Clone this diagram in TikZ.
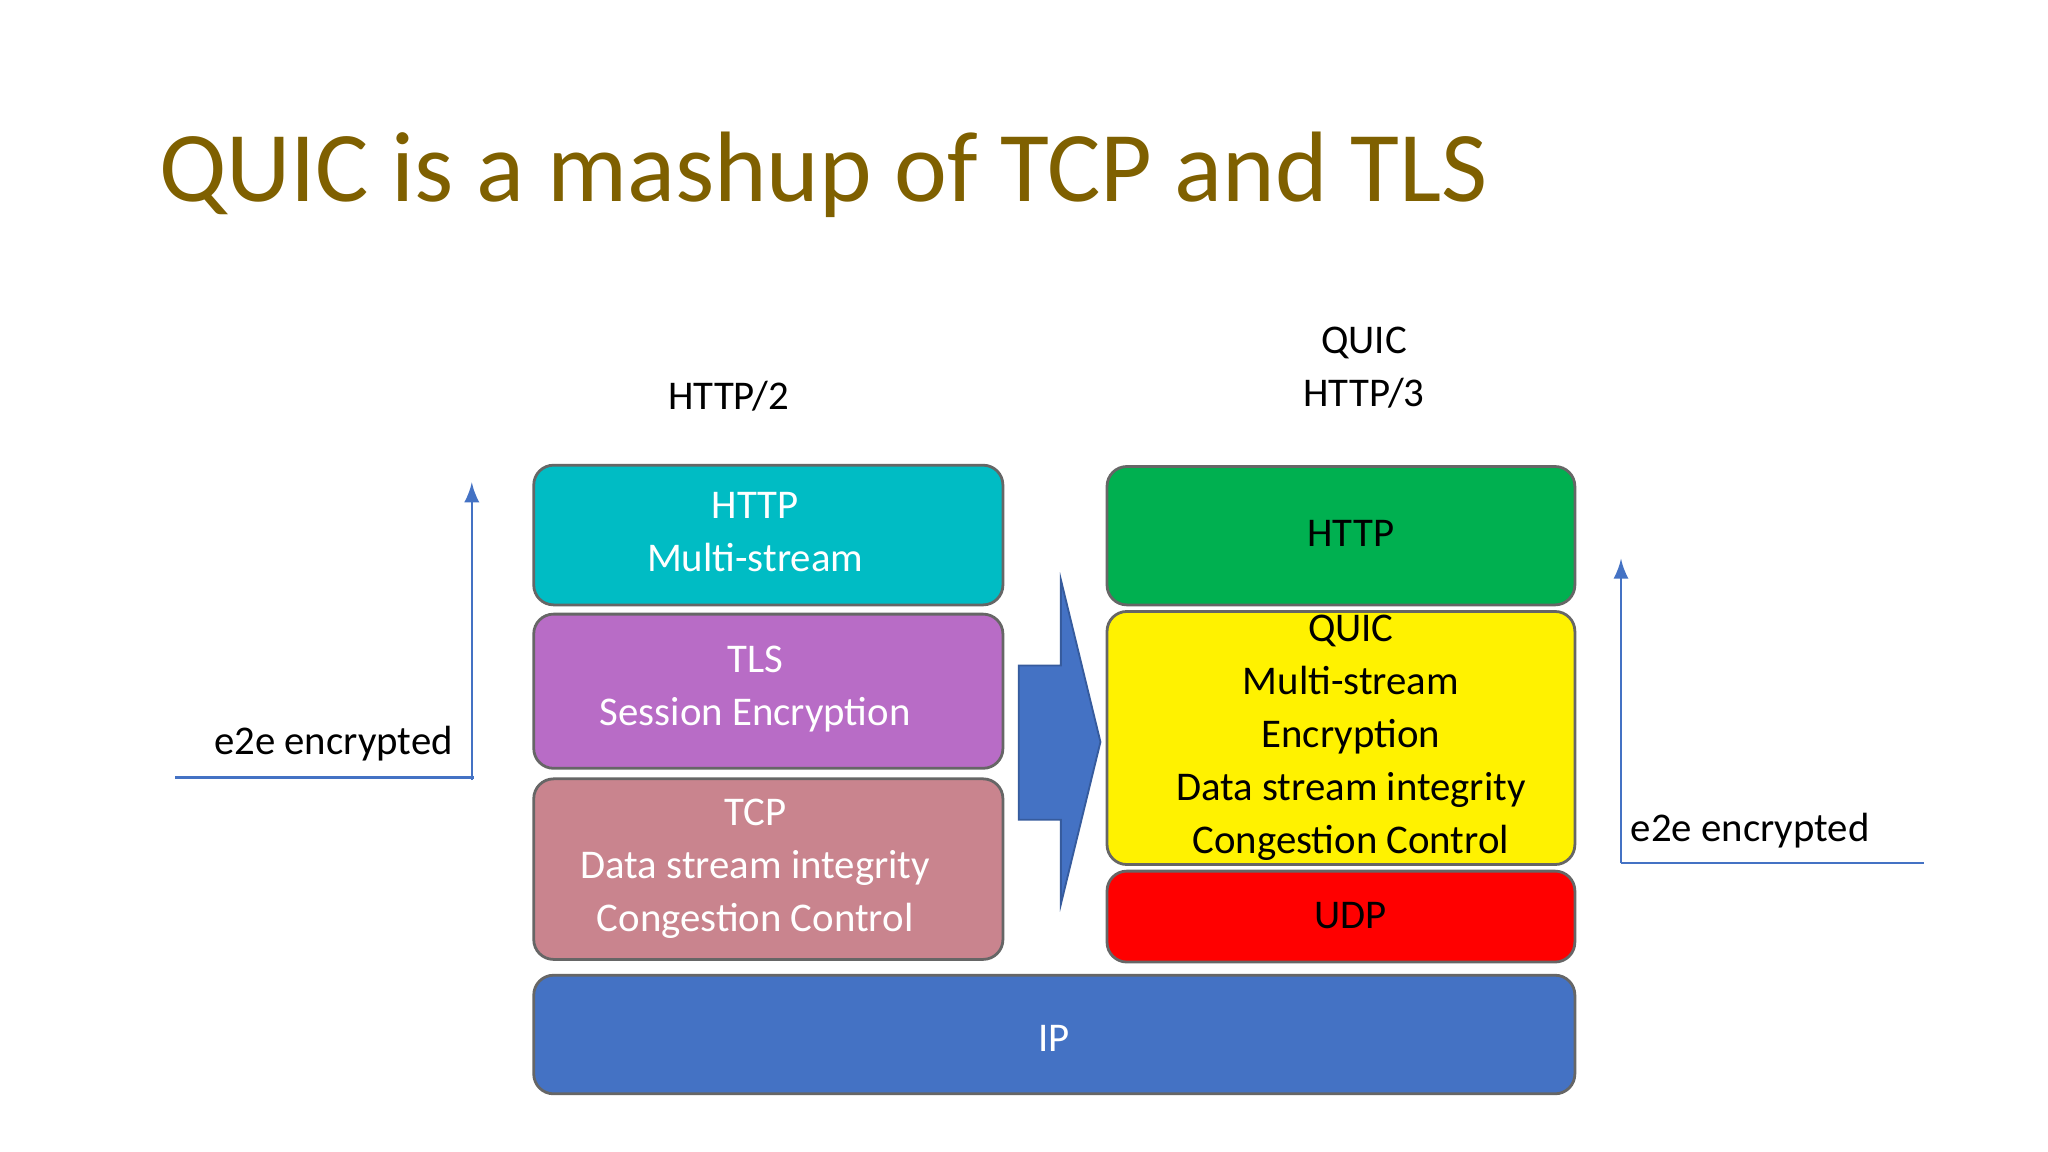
\documentclass[tikz,border=0pt]{standalone}
\usepackage{fontspec}
\setmainfont{Carlito}
\begin{document}
\begin{tikzpicture}[x=0.01cm,y=-0.01cm,
  layer/.style={draw=gray!80!black,line width=0.6pt,rounded corners=0.15cm,align=center,font=\fontsize{8.8pt}{10pt}\selectfont,text=white},
  lbl/.style={align=center,font=\fontsize{8.8pt}{10pt}\selectfont}]
\useasboundingbox (0,0) rectangle (1554,874);
\fill[white] (0,0) rectangle (1554,874);
\node[anchor=base west,text={rgb,255:red,127;green,96;blue,0},font=\fontsize{21.6pt}{24pt}\selectfont,inner sep=0] (title) at (120,153) {QUIC is a mashup of TCP and TLS};
\definecolor{cy}{HTML}{00BCC4}\definecolor{pu}{HTML}{B86CC6}\definecolor{pk}{HTML}{C9848E}
\definecolor{gr}{HTML}{00B050}\definecolor{bl}{HTML}{4472C4}
\draw[layer,fill=cy] (405,353) rectangle (761,459);
\node[lbl,text=white] (http2) at (573,404) {HTTP\\[0.05cm]Multi-stream};
\draw[layer,fill=pu] (405,466) rectangle (761,583);
\node[lbl,text=white] (tls) at (573,523) {TLS\\[0.05cm]Session Encryption};
\draw[layer,fill=pk] (405,591) rectangle (761,728);
\node[lbl,text=white] (tcp) at (573,659) {TCP\\[0.05cm]Data stream integrity\\[0.05cm]Congestion Control};
\draw[layer,fill=gr] (840,354) rectangle (1195,459);
\node[lbl] (http3) at (1025,405) {HTTP};
\draw[layer,fill=yellow] (840,464) rectangle (1195,656);
\node[lbl] (quic) at (1025,560) {QUIC\\[0.05cm]Multi-stream\\[0.05cm]Encryption\\[0.05cm]Data stream integrity\\[0.05cm]Congestion Control};
\draw[layer,fill=red] (840,661) rectangle (1195,730);
\node[lbl] (udp) at (1025,695) {UDP};
\draw[layer,fill=bl] (405,740) rectangle (1195,830);
\node[lbl,text=white] (ip) at (800,788) {IP};
\fill[bl,draw=bl!80!black,line width=0.4pt] (773,505) -- (805,505) -- (805,440) -- (835,563) -- (805,686) -- (805,622) -- (773,622) -- cycle;
\node[lbl] (h2) at (553,301) {HTTP/2};
\node[lbl] (h3) at (1035,279) {QUIC\\[0.05cm]HTTP/3};
\coordinate (l0) at (358,592); \coordinate (l1) at (358,366);
\coordinate (la) at (133,590); \coordinate (lb) at (360,590);
\draw[bl,line width=0.5pt,-latex] (l0) -- (l1);
\draw[bl,line width=0.5pt] (la) -- (lb);
\node[lbl] (e1) at (253,564) {e2e encrypted};
\coordinate (r0) at (1230,655); \coordinate (r1) at (1230,424);
\coordinate (rb) at (1460,655);
\draw[bl,line width=0.5pt,-latex] (r0) -- (r1);
\draw[bl,line width=0.5pt] (r0) -- (rb);
\node[lbl] (e2) at (1328,630) {e2e encrypted};
\end{tikzpicture}
\end{document}
